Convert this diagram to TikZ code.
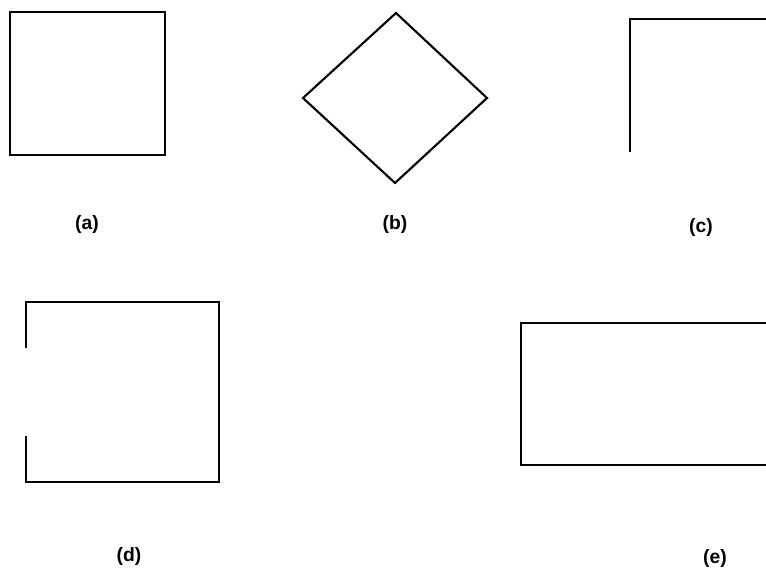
\documentclass[tikz,border=0pt]{standalone}
\usepackage{fontspec}
\setmainfont{Liberation Sans}
\usepackage{tikz}
\usetikzlibrary{calc}
\tikzset{
	shape line/.style={line width=1.2pt, color=black, line join=miter},
	fig label/.style={font=\fontsize{11}{13}\selectfont\bfseries, inner sep=0pt}
}

\begin{document}
\begin{tikzpicture}[x=0.02cm, y=-0.02cm]
		%%%%% START %%%%%
		
		\useasboundingbox (0, 0) rectangle (766, 571);
		
		% (a) square
		\draw[shape line] (10, 12) rectangle (165, 155);
		
		% (b) diamond
		\draw[shape line] (396, 13) -- (487, 98) -- (395, 183) -- (303, 98) -- cycle;
		
		% (c) corner only
		\draw[shape line] (630, 152) -- (630, 19) -- (770, 19);
		
		% (d) square with gap on the left
		\draw[shape line] (26, 348) -- (26, 302) -- (219, 302) -- (219, 482) -- (26, 482) -- (26, 436);
		
		% (e) wide rectangle, cut at the right
		\draw[shape line] (770, 323) -- (521, 323) -- (521, 465) -- (770, 465);
		
		\node[fig label] (la) at (87, 225) {(a)};
		\node[fig label] (lb) at (395, 225) {(b)};
		\node[fig label] (lc) at (701, 227) {(c)};
		\node[fig label] (ld) at (129, 556) {(d)};
		\node[fig label] (le) at (715, 558) {(e)};
		
		%%%%% END %%%%%
	\end{tikzpicture}
\end{document}
